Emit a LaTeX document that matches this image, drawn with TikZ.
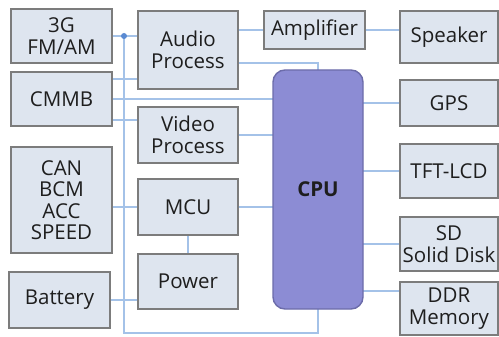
\documentclass[tikz,border=0pt]{standalone}
\usepackage{fontspec}
\setmainfont{Open Sans}
\usetikzlibrary{backgrounds}
\definecolor{boxfill}{HTML}{DEE5EF}
\definecolor{boxline}{HTML}{7C7C7C}
\definecolor{wire}{HTML}{A4C2E8}
\definecolor{dotcol}{HTML}{5A8AD2}
\definecolor{cpufill}{HTML}{8C8CD4}
\definecolor{cpuline}{HTML}{6C6CAA}
\definecolor{ink}{HTML}{1E1E1E}
\begin{document}
\begin{tikzpicture}[x=1pt,y=-1pt,
  every node/.style={inner sep=0pt,outer sep=0pt,font=\fontsize{20.5}{21.5}\selectfont,text=ink,align=center},
  unit/.style={draw=boxline,fill=boxfill,line width=1.4pt},
  wireline/.style={draw=wire,line width=2pt},
  cpubox/.style={draw=cpuline,fill=cpufill,line width=1.4pt,rounded corners=12pt}]
\useasboundingbox (0,0) rectangle (499,337);

% left column
\node[unit,minimum width=101pt,minimum height=54pt] (g3) at (61.5,36) {3G\\FM/AM};
\node[unit,minimum width=101pt,minimum height=54pt] (cmmb) at (61.5,99) {CMMB};
\node[unit,minimum width=101pt,minimum height=106pt] (can) at (61.5,200) {CAN\\BCM\\ACC\\SPEED};
\node[unit,minimum width=101pt,minimum height=56pt] (bat) at (59.5,300) {Battery};

% middle column
\node[unit,minimum width=100pt,minimum height=78pt] (audio) at (188,50) {Audio\\Process};
\node[unit,minimum width=100pt,minimum height=56pt] (video) at (188,135) {Video\\Process};
\node[unit,minimum width=100pt,minimum height=56pt] (mcu) at (188,207) {MCU};
\node[unit,minimum width=100pt,minimum height=55pt] (power) at (188,281.5) {Power};
\node[unit,minimum width=101pt,minimum height=38pt] (amp) at (314.5,30) {Amplifier};

% processor
\node[cpubox,minimum width=90pt,minimum height=239pt,font=\fontsize{20.5}{21.5}\selectfont\bfseries] (cpu) at (318,189.5) {CPU};

% right column
\node[unit,minimum width=98pt,minimum height=52pt] (speaker) at (449,37) {Speaker};
\node[unit,minimum width=98pt,minimum height=46pt] (gps) at (449,103) {GPS};
\node[unit,minimum width=98pt,minimum height=54pt] (tft) at (449,171) {TFT-LCD};
\node[unit,minimum width=98pt,minimum height=54pt] (sd) at (449,244) {SD\\Solid Disk};
\node[unit,minimum width=98pt,minimum height=53pt] (ddr) at (449,308.5) {DDR\\Memory};

% connections, kept behind the boxes
\coordinate (jn) at (124,36);
\coordinate (bl) at (124,333);
\begin{scope}[on background layer]
\begin{scope}[every path/.style={wireline}]
\draw (g3.east) -- (g3.east -| audio.west);
\draw (jn) -- (bl) -| (cpu.south);
\draw (audio.east |- amp.west) -- (amp.west);
\draw (amp.east) -- (amp.east -| speaker.west);
\draw ([yshift=-13pt]audio.east) -| (cpu.north);
\draw ([yshift=-7pt]cmmb.north east) coordinate (c1) -- (c1 -| audio.west);
\draw (cmmb.east) -- (cmmb.east -| cpu.west);
\draw ([yshift=6pt]cmmb.south east) coordinate (c2) -- (c2 -| video.west);
\draw (video.east) -- (video.east -| cpu.west);
\draw (can.east |- mcu.west) -- (mcu.west);
\draw (mcu.east) -- (mcu.east -| cpu.west);
\draw (mcu.south) -- (power.north);
\draw (bat.east) -- (bat.east -| power.west);
\draw (gps.west -| cpu.east) -- (gps.west);
\draw (tft.west -| cpu.east) -- (tft.west);
\draw (sd.west -| cpu.east) -- (sd.west);
\draw ([yshift=17.5pt]ddr.west) coordinate (c3) -- (c3 -| cpu.east);
\end{scope}
\end{scope}
\fill[dotcol] (jn) circle (3pt);
\end{tikzpicture}
\end{document}
